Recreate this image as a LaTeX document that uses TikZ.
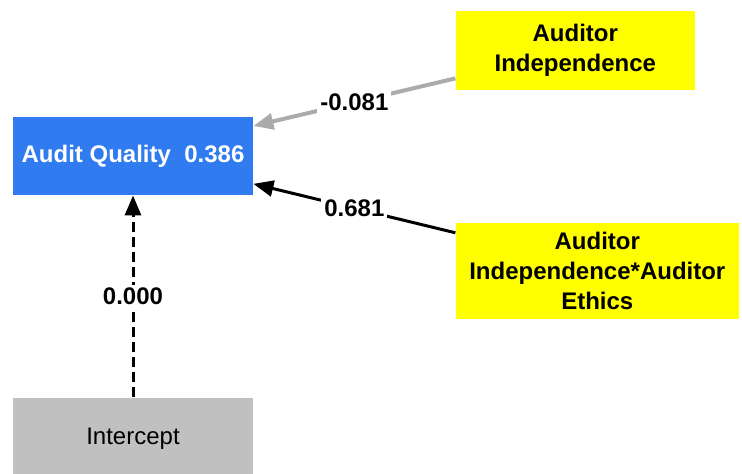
\documentclass[tikz,border=0pt]{standalone}
\usepackage{fontspec}
\setmainfont{Liberation Sans}
\usetikzlibrary{positioning, arrows.meta}
\definecolor{qualityblue}{HTML}{2F7BEF}
\definecolor{indepyellow}{HTML}{FFFF00}
\definecolor{interceptgray}{HTML}{C0C0C0}
\definecolor{linkgray}{HTML}{ABABAB}

\begin{document}
\begin{tikzpicture}[
    construct/.style={rectangle, inner sep=0pt, align=center, minimum width=120pt, minimum height=39pt, font=\fontsize{12}{15}\selectfont\bfseries},
    coef/.style={fill=white, inner sep=1.5pt, font=\fontsize{12}{14}\selectfont\bfseries},
    link/.style={line width=1.5pt, -{Triangle[length=10pt, width=8pt]}}
  ]
  \useasboundingbox (0,0) rectangle (371pt,-236.5pt);

  \node[construct, fill=qualityblue, text=white] (quality) at (66.5pt,-78pt) {Audit Quality~~0.386};
  \node[construct, fill=indepyellow, minimum width=119.5pt, minimum height=39.5pt] (indep) [above right = 13pt and 101pt of quality] {Auditor\\Independence};
  \node[construct, fill=indepyellow, minimum width=141.5pt, minimum height=48pt] (moderator) [below right = 13.5pt and 101pt of quality] {Auditor\\Independence*Auditor\\Ethics};
  \node[construct, fill=interceptgray, font=\fontsize{12}{15}\selectfont, minimum height=41pt] (intercept) [below = 101pt of quality] {Intercept};

  % path coefficients
  \draw[link, linkgray, line width=2pt] (indep.193) -- node[coef, text=black] {-0.081} (quality.14);
  \draw[link, black] (moderator.165) -- node[coef] {0.681} (quality.-13);
  \draw[link, black, dash pattern=on 5pt off 2.5pt] (intercept) -- node[coef] {0.000} (quality);
\end{tikzpicture}
\end{document}
